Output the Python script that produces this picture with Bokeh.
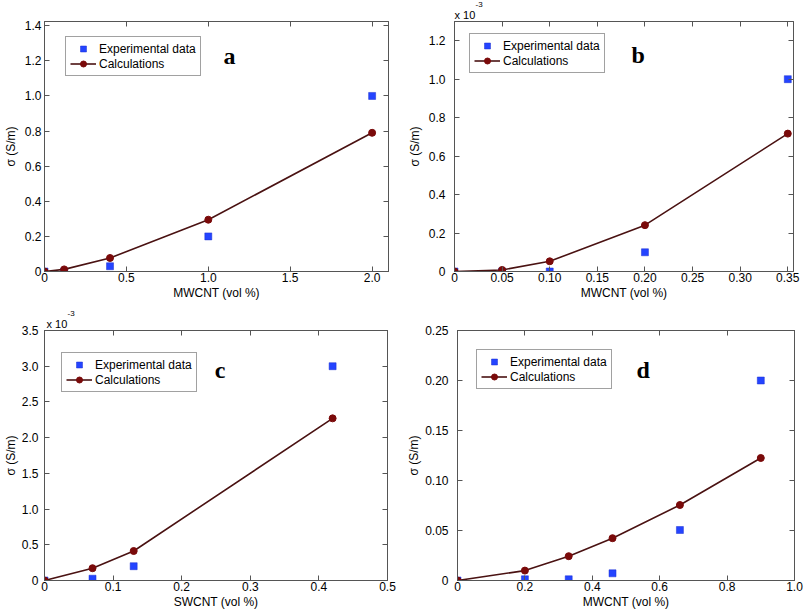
from bokeh.plotting import figure
from bokeh.models import Range1d, FixedTicker, LinearAxis, Legend, LegendItem, Label, Title
from bokeh.layouts import row, column
from bokeh.embed import file_html
from bokeh.resources import INLINE

# ---------------- data ----------------
# Panel a (MWCNT, S/m)
a_x_exp = [0, 0.12, 0.4, 1.0, 2.0]
a_y_exp = [0, 0, 0.03, 0.2, 1.0]
a_x_calc = [0, 0.12, 0.4, 1.0, 2.0]
a_y_calc = [0, 0.012, 0.077, 0.295, 0.79]
a_xticks = [0, 0.5, 1.0, 1.5, 2.0]
a_xlabels = ["0", "0.5", "1.0", "1.5", "2.0"]
a_yticks = [0, 0.2, 0.4, 0.6, 0.8, 1.0, 1.2, 1.4]
a_ylabels = ["0", "0.2", "0.4", "0.6", "0.8", "1.0", "1.2", "1.4"]

# Panel b (MWCNT, x 10^-3 S/m)
b_x_exp = [0, 0.05, 0.1, 0.2, 0.35]
b_y_exp = [0, 0, 0, 0.1, 1.0]
b_x_calc = [0, 0.05, 0.1, 0.2, 0.35]
b_y_calc = [0, 0.008, 0.053, 0.241, 0.717]
b_xticks = [0, 0.05, 0.1, 0.15, 0.2, 0.25, 0.3, 0.35]
b_xlabels = ["0", "0.05", "0.10", "0.15", "0.20", "0.25", "0.30", "0.35"]
b_yticks = [0, 0.2, 0.4, 0.6, 0.8, 1.0, 1.2]
b_ylabels = ["0", "0.2", "0.4", "0.6", "0.8", "1.0", "1.2"]

# Panel c (SWCNT, x 10^-3 S/m)
c_x_exp = [0, 0.07, 0.13, 0.42]
c_y_exp = [0, 0.025, 0.2, 3.0]
c_x_calc = [0, 0.07, 0.13, 0.42]
c_y_calc = [0, 0.172, 0.413, 2.27]
c_xticks = [0, 0.1, 0.2, 0.3, 0.4, 0.5]
c_xlabels = ["0", "0.1", "0.2", "0.3", "0.4", "0.5"]
c_yticks = [0, 0.5, 1.0, 1.5, 2.0, 2.5, 3.0, 3.5]
c_ylabels = ["0", "0.5", "1.0", "1.5", "2.0", "2.5", "3.0", "3.5"]

# Panel d (MWCNT, S/m)
d_x_exp = [0, 0.2, 0.33, 0.46, 0.66, 0.9]
d_y_exp = [0, 0.0012, 0.0012, 0.0072, 0.0505, 0.2]
d_x_calc = [0, 0.2, 0.33, 0.46, 0.66, 0.9]
d_y_calc = [0, 0.0099, 0.0243, 0.0423, 0.0755, 0.1225]
d_xticks = [0, 0.2, 0.4, 0.6, 0.8, 1.0]
d_xlabels = ["0", "0.2", "0.4", "0.6", "0.8", "1.0"]
d_yticks = [0, 0.05, 0.1, 0.15, 0.2, 0.25]
d_ylabels = ["0", "0.05", "0.10", "0.15", "0.20", "0.25"]

legend_labels = ["Experimental data", "Calculations"]
y_title = "\u03c3 (S/m)"
sci_base = "x 10"
sci_exp = "-3"

# ---------------- styling ----------------
FONT = "Liberation Sans"
AX_COL = "#555555"
SQ_FILL = "#2444ff"
SQ_LINE = "#1a2fd0"
CALC_LINE = "#4a1212"
CALC_DOT = "#7a0a0a"


def style_axis(ax, ticks, labels=None, standoff=3):
    ax.ticker = FixedTicker(ticks=ticks)
    ax.major_tick_in = 5
    ax.major_tick_out = 0
    ax.minor_tick_in = 0
    ax.minor_tick_out = 0
    ax.axis_line_color = AX_COL
    ax.major_tick_line_color = AX_COL
    ax.axis_line_width = 1
    if labels is None:
        ax.major_label_overrides = {t: "" for t in ticks}
        ax.major_label_text_font_size = "1px"
        ax.major_label_standoff = 0
    else:
        ax.major_label_overrides = dict(zip(ticks, labels))
        ax.major_label_text_font = FONT
        ax.major_label_text_font_size = "12px"
        ax.major_label_text_color = "black"
        ax.major_label_standoff = standoff


def make_panel(width, height, borders, xr, yr, xe, ye, xc, yc,
               xt, xl, yt, yl, xtitle, letter, letter_xy, leg_loc,
               ystand, ylab_stand, sci=False, sci_off=0):
    bl, br, bt, bb = borders
    p = figure(width=width, height=height, output_backend="svg", title=None,
               toolbar_location=None, x_range=Range1d(*xr), y_range=Range1d(*yr),
               min_border_left=bl, min_border_right=br,
               min_border_top=bt, min_border_bottom=bb,
               background_fill_color="white", border_fill_color="white")
    p.grid.visible = False
    p.outline_line_color = AX_COL
    style_axis(p.xaxis[0], xt, xl, standoff=1)
    style_axis(p.yaxis[0], yt, yl, standoff=ystand)
    p.xaxis[0].axis_label = xtitle
    p.yaxis[0].axis_label = y_title
    p.xaxis[0].axis_label_standoff = 1
    p.yaxis[0].axis_label_standoff = ylab_stand
    for ax in (p.xaxis[0], p.yaxis[0]):
        ax.axis_label_text_font = FONT
        ax.axis_label_text_font_size = "12px"
        ax.axis_label_text_font_style = "normal"
        ax.axis_label_text_color = "black"
    top = LinearAxis()
    style_axis(top, xt)
    p.add_layout(top, "above")
    right = LinearAxis()
    style_axis(right, yt)
    p.add_layout(right, "right")
    if sci:
        p.add_layout(Title(text=sci_base, align="left", offset=sci_off, standoff=2,
                           text_font=FONT, text_font_size="11px",
                           text_font_style="normal", text_color="black"), "above")
        p.add_layout(Title(text=sci_exp, align="left", offset=sci_off + 21, standoff=-3,
                           text_font=FONT, text_font_size="8px",
                           text_font_style="normal", text_color="black"), "above")

    sq = p.scatter(xe, ye, marker="square", size=7, fill_color=SQ_FILL,
                   line_color=SQ_LINE, line_width=0.5)
    ln = p.line(xc, yc, line_color=CALC_LINE, line_width=1.6)
    ci = p.scatter(xc, yc, marker="circle", size=7, fill_color=CALC_DOT,
                   line_color=CALC_DOT)

    leg = Legend(items=[LegendItem(label=legend_labels[0], renderers=[sq]),
                        LegendItem(label=legend_labels[1], renderers=[ln, ci])],
                 location=leg_loc, margin=0, padding=4, spacing=0,
                 glyph_width=26, glyph_height=15, label_height=15,
                 label_standoff=3, label_text_font=FONT,
                 label_text_font_size="12px", label_text_color="black",
                 border_line_color="#444444", border_line_width=1,
                 background_fill_color="white", background_fill_alpha=1)
    p.add_layout(leg, "center")

    p.add_layout(Label(x=letter_xy[0], y=letter_xy[1], text=letter,
                       text_font="Liberation Serif", text_font_style="bold",
                       text_font_size="24px", text_align="center",
                       text_baseline="middle", text_color="black"))
    return p


pa = make_panel(404, 307, (43, 16, 19, 35), (0, 2.1), (0, 1.424),
                a_x_exp, a_y_exp, a_x_calc, a_y_calc,
                a_xticks, a_xlabels, a_yticks, a_ylabels,
                "MWCNT (vol %)", "a", (1.13, 1.227), (21, 195), 3, 4)
pb = make_panel(404, 307, (49, 15, 21, 36), (0, 0.356), (0, 1.3),
                b_x_exp, b_y_exp, b_x_calc, b_y_calc,
                b_xticks, b_xlabels, b_yticks, b_ylabels,
                "MWCNT (vol %)", "b", (0.193, 1.124), (15, 198), 9, 4, sci=True, sci_off=0)
pc = make_panel(404, 307, (41, 17, 23, 33), (0, 0.5), (0, 3.5),
                c_x_exp, c_y_exp, c_x_calc, c_y_calc,
                c_xticks, c_xlabels, c_yticks, c_ylabels,
                "SWCNT (vol %)", "c", (0.256, 2.95), (17, 188), 6, 1, sci=True, sci_off=2)
pd_ = make_panel(404, 307, (49, 14, 21, 34), (0, 1.0), (0, 0.25),
                 d_x_exp, d_y_exp, d_x_calc, d_y_calc,
                 d_xticks, d_xlabels, d_yticks, d_ylabels,
                 "MWCNT (vol %)", "d", (0.551, 0.211), (19, 191), 9, 1)

layout = column(row(pa, pb), row(pc, pd_))
open("out.html", "w").write(file_html(layout, INLINE))
